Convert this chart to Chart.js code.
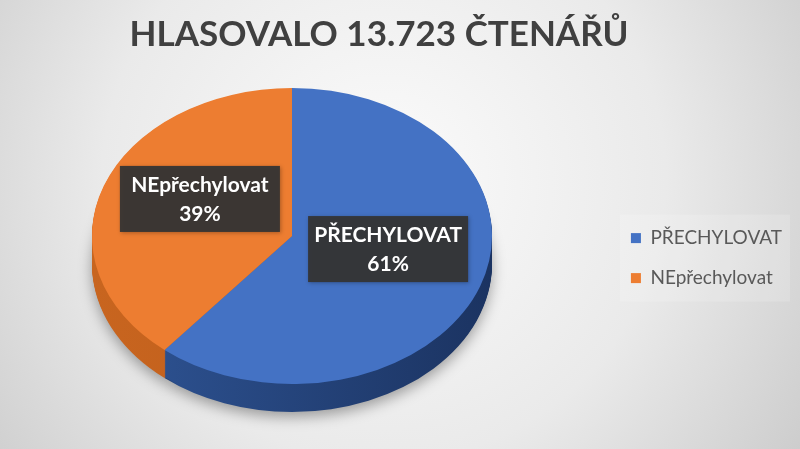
<!DOCTYPE html>
<html>
<head>
<meta charset="utf-8">
<script src="https://cdn.jsdelivr.net/npm/chart.js@4/dist/chart.umd.min.js"></script>
<style>
  html, body { margin: 0; padding: 0; background: #e6e6e6; }
  #wrap { width: 800px; height: 449px; }
</style>
</head>
<body>
<div id="wrap"><canvas id="pie" width="800" height="449"></canvas></div>
<script>
// poll result
const categories = ["PŘECHYLOVAT", "NEpřechylovat"];
const shares = [61, 39];
const titleText = "HLASOVALO 13.723 ČTENÁŘŮ";

const topColors = ["#4472c4", "#ed7d31"];
const sideColors = [["#2f5596", "#1b3361"], ["#c8651f", "#b8581a"]];

// 3d look
const CX = 292;
const CY = 236;
const RADIUS = 200;
const TILT = 0.74;
const DEPTH = 28;

function pieTransform(ctx, arc, dy) {
  ctx.translate(CX, CY + dy);
  ctx.scale(1, TILT);
  ctx.translate(-arc.x, -arc.y);
}

const backdrop = {
  id: "backdrop",
  beforeDraw(chart) {
    const { ctx, width, height } = chart;
    ctx.save();
    const g = ctx.createRadialGradient(width * 0.48, height * 0.4, 20, width * 0.48, height * 0.4, width * 0.62);
    g.addColorStop(0, "#fafafa");
    g.addColorStop(0.55, "#eaeaea");
    g.addColorStop(1, "#cdcdcd");
    ctx.fillStyle = g;
    ctx.fillRect(0, 0, width, height);

    // light panel behind legend
    const boxes = chart.legend && chart.legend.legendHitBoxes;
    if (boxes && boxes.length) {
      const x0 = Math.min(...boxes.map((b) => b.left)) - 11;
      const y0 = Math.min(...boxes.map((b) => b.top)) - 14;
      const x1 = Math.max(...boxes.map((b) => b.left + b.width)) + 8;
      const y1 = Math.max(...boxes.map((b) => b.top + b.height)) + 14;
      ctx.fillStyle = "rgba(255,255,255,0.16)";
      ctx.fillRect(x0, y0, x1 - x0, y1 - y0);
    }
    ctx.restore();
  },
};

const tilted = {
  id: "tilted",
  beforeDatasetsDraw(chart) {
    const { ctx } = chart;
    const arcs = chart.getDatasetMeta(0).data;
    // side wall, deepest layer first
    for (let d = DEPTH; d >= 1; d--) {
      ctx.save();
      if (d === DEPTH) {
        ctx.shadowColor = "rgba(0,0,0,0.35)";
        ctx.shadowBlur = 14;
        ctx.shadowOffsetY = 5;
      }
      arcs.forEach((arc, i) => {
        ctx.save();
        pieTransform(ctx, arc, d);
        const g = ctx.createLinearGradient(arc.x - arc.outerRadius, 0, arc.x + arc.outerRadius, 0);
        g.addColorStop(0, sideColors[i][0]);
        g.addColorStop(1, sideColors[i][1]);
        ctx.fillStyle = g;
        ctx.beginPath();
        ctx.moveTo(arc.x, arc.y);
        ctx.arc(arc.x, arc.y, arc.outerRadius, arc.startAngle, arc.endAngle);
        ctx.closePath();
        ctx.fill();
        ctx.restore();
      });
      ctx.restore();
    }
    // top face is drawn by chart.js inside this transform
    ctx.save();
    pieTransform(ctx, arcs[0], 0);
  },
  afterDatasetsDraw(chart) {
    const { ctx } = chart;
    ctx.restore();

    const arcs = chart.getDatasetMeta(0).data;
    const total = shares.reduce((a, b) => a + b, 0);
    arcs.forEach((arc, i) => {
      const mid = (arc.startAngle + arc.endAngle) / 2;
      const px = CX + 2 + Math.cos(mid) * arc.outerRadius * 0.5;
      const py = CY + Math.sin(mid) * arc.outerRadius * 0.5 * TILT - 12;
      const w = 160, h = 66;
      ctx.save();
      ctx.shadowColor = "rgba(0,0,0,0.3)";
      ctx.shadowBlur = 4;
      ctx.shadowOffsetX = 1;
      ctx.shadowOffsetY = 1;
      ctx.fillStyle = "rgba(52,52,52,0.94)";
      ctx.fillRect(px - w / 2, py - h / 2, w, h);
      ctx.restore();

      ctx.save();
      ctx.fillStyle = "#ffffff";
      ctx.font = "bold 21px Lato";
      ctx.textAlign = "center";
      ctx.textBaseline = "middle";
      ctx.fillText(categories[i], px, py - 14);
      ctx.fillText(Math.round((shares[i] / total) * 100) + "%", px, py + 15);
      ctx.restore();
    });
  },
};

new Chart(document.getElementById("pie"), {
  type: "pie",
  data: {
    labels: categories,
    datasets: [
      {
        data: shares,
        backgroundColor: topColors,
        borderWidth: 0,
      },
    ],
  },
  options: {
    responsive: false,
    animation: false,
    radius: RADIUS,
    layout: { padding: { left: -34, right: 8, top: 0, bottom: 0 } },
    plugins: {
      title: {
        display: true,
        text: titleText,
        color: "#404040",
        font: { family: "Lato", size: 35, weight: "bold" },
        padding: { top: 14, bottom: 16 },
      },
      legend: {
        position: "right",
        title: {
          display: true,
          text: "",
          font: { size: 1 },
          padding: { top: 66, bottom: 0 },
        },
        labels: {
          boxWidth: 10,
          boxHeight: 10,
          padding: 21,
          color: "#595959",
          font: { family: "Lato", size: 19 },
        },
      },
      tooltip: { enabled: false },
    },
  },
  plugins: [backdrop, tilted],
});
</script>
</body>
</html>
